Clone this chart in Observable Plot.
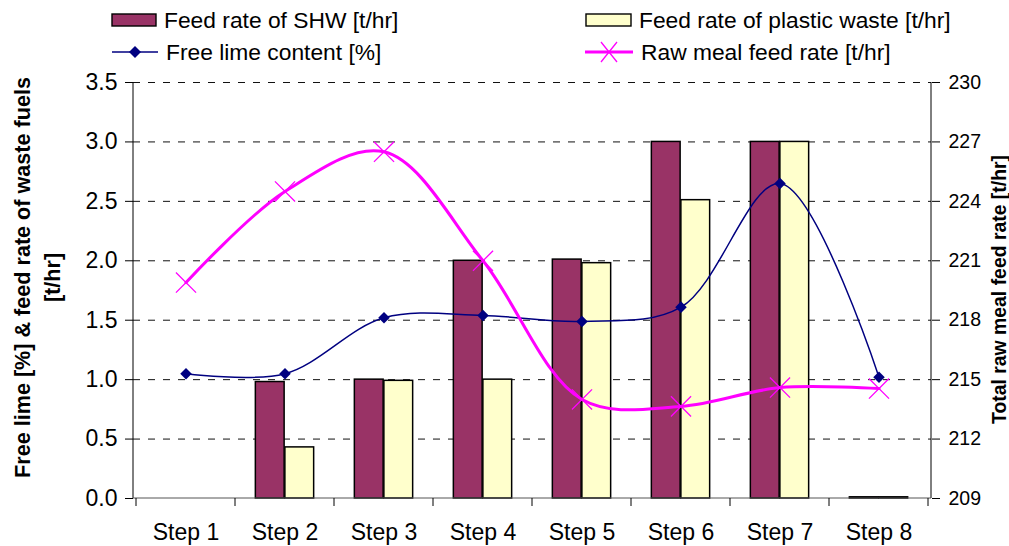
<!DOCTYPE html>
<html>
<head>
<meta charset="utf-8">
<script src="https://cdn.jsdelivr.net/npm/d3@7"></script>
<script src="https://cdn.jsdelivr.net/npm/@observablehq/plot@0.6"></script>
<style>
  body { margin: 0; background: #fff; font-family: "Liberation Sans", Arial, sans-serif; }
  #wrap { width: 1009px; height: 546px; overflow: hidden; }
  .legend { position: relative; width: 1009px; height: 70px; font-size: 22.8px; color: #000; }
  .item { position: absolute; display: flex; align-items: center; height: 30px; white-space: nowrap; }
  .item svg { display: block; margin-right: 7px; }
</style>
</head>
<body>
<div id="wrap">
  <div class="legend">
    <div class="item" style="left:111px; top:5px;">
      <svg width="46" height="14"><rect x="1" y="1" width="44" height="12" fill="#993366" stroke="#000" stroke-width="1.4"/></svg>
      <span>Feed rate of SHW [t/hr]</span>
    </div>
    <div class="item" style="left:585px; top:5px;">
      <svg width="47" height="14"><rect x="1" y="1" width="45" height="12" fill="#FFFFCC" stroke="#000" stroke-width="1.4"/></svg>
      <span>Feed rate of plastic waste [t/hr]</span>
    </div>
    <div class="item" style="left:111px; top:37px;">
      <svg width="48" height="16"><line x1="1" y1="8" x2="47" y2="8" stroke="#000080" stroke-width="1.5"/><path d="M24,2L30,8L24,14L18,8Z" fill="#000080"/></svg>
      <span>Free lime content [%]</span>
    </div>
    <div class="item" style="left:585px; top:37px;">
      <svg width="49" height="22"><line x1="0" y1="11" x2="48" y2="11" stroke="#FF00FF" stroke-width="3"/><path d="M16,1L32,21M32,1L16,21" stroke="#FF00FF" stroke-width="1.3"/></svg>
      <span>Raw meal feed rate [t/hr]</span>
    </div>
  </div>
  <div id="chart"></div>
</div>
<script>
// Process steps and measured values
const steps = ["Step 1", "Step 2", "Step 3", "Step 4", "Step 5", "Step 6", "Step 7", "Step 8"];
const shwFeed = [0, 0.98, 1.0, 2.0, 2.01, 3.0, 3.0, 0.01];          // t/hr
const plasticFeed = [0, 0.43, 0.99, 1.0, 1.98, 2.51, 3.0, 0.01];    // t/hr
const freeLime = [1.05, 1.05, 1.52, 1.54, 1.49, 1.61, 2.65, 1.02];  // %
const rawMeal = [219.9, 224.5, 226.5, 221.0, 214.0, 213.65, 214.6, 214.55]; // t/hr

const leftTicks = [0, 0.5, 1.0, 1.5, 2.0, 2.5, 3.0, 3.5];
const rightTicks = [209, 212, 215, 218, 221, 224, 227, 230];

const leftTitle = "Free lime [%] & feed rate of waste fuels\n[t/hr]";
const rightTitle = "Total raw meal feed rate [t/hr]";

const rows = steps.map((step, i) => ({
  step, shw: shwFeed[i], plastic: plasticFeed[i], lime: freeLime[i], raw: rawMeal[i]
}));

// Raw meal feed rate lives on the secondary (right) axis; map it onto the left domain
const toLeft = d3.scaleLinear([rightTicks[0], rightTicks[rightTicks.length - 1]],
                              [leftTicks[0], leftTicks[leftTicks.length - 1]]);

const W = 1009, H = 476, ML = 133, MR = 78, MT = 12, MB = 48;
const bw = (W - ML - MR) / steps.length;   // band width
const barW = 0.296 * bw;                    // width of one bar in a group
const pad = (bw - 2 * barW) / 2;            // space on each side of a group

const font = "'Liberation Sans', Arial, sans-serif";

const plot = Plot.plot({
  width: W, height: H,
  marginLeft: ML, marginRight: MR, marginTop: MT, marginBottom: MB,
  style: { fontFamily: font, fontSize: "22px", color: "#000", background: "transparent", overflow: "visible" },
  x: { type: "band", domain: steps, padding: 0, axis: null },
  y: { domain: [0, 3.5], axis: null },
  marks: [
    Plot.gridY(leftTicks.filter(d => d > 0), { stroke: "#111", strokeOpacity: 1, strokeWidth: 1, strokeDasharray: "7,8" }),
    Plot.barY(rows.filter(d => d.shw > 0), {
      x: "step", y: "shw", fill: "#993366", stroke: "#000", strokeWidth: 1.5,
      insetLeft: pad, insetRight: pad + barW
    }),
    Plot.barY(rows.filter(d => d.plastic > 0), {
      x: "step", y: "plastic", fill: "#FFFFCC", stroke: "#000", strokeWidth: 1.5,
      insetLeft: pad + barW, insetRight: pad
    }),
    Plot.line(rows, { x: "step", y: "lime", stroke: "#000080", strokeWidth: 1.5, curve: "catmull-rom" }),
    Plot.dot(rows, { x: "step", y: "lime", symbol: "diamond2", r: 5.2, fill: "#000080", stroke: "none" }),
    Plot.line(rows, { x: "step", y: d => toLeft(d.raw), stroke: "#FF00FF", strokeWidth: 3, curve: "catmull-rom" }),
    Plot.dot(rows, { x: "step", y: d => toLeft(d.raw), symbol: "times", r: 9.2, stroke: "#FF00FF", strokeWidth: 1.3 }),
    Plot.axisY(leftTicks, {
      anchor: "left", tickSize: 8, tickPadding: 8, fontSize: 23,
      tickFormat: d3.format(".1f"), label: null
    }),
    Plot.axisY(rightTicks.map(toLeft), {
      anchor: "right", tickSize: 8, tickPadding: 9, fontSize: 19.5,
      tickFormat: d => Math.round(toLeft.invert(d)), label: null
    }),
    Plot.axisX({ anchor: "bottom", tickSize: 0, tickPadding: 25, fontSize: 23, label: null }),
    Plot.text([leftTitle], {
      text: d => d, frameAnchor: "left", rotate: -90, dx: -98.5, dy: -13,
      fontWeight: "bold", fontSize: 21.6, lineHeight: 1.4, textAnchor: "middle"
    }),
    Plot.text([rightTitle], {
      text: d => d, frameAnchor: "right", rotate: -90, dx: 68, dy: -1,
      fontWeight: "bold", fontSize: 19.4, textAnchor: "middle"
    })
  ]
});

document.getElementById("chart").appendChild(plot);

// Axis lines and category boundary ticks
const xs = plot.scale("x"), ys = plot.scale("y");
const x0 = ML, x1 = W - MR;
const yBottom = ys.apply(0), yTop = ys.apply(3.5);
const g = d3.select(plot).append("g").attr("stroke", "#000").attr("stroke-width", 1).attr("fill", "none");
g.append("line").attr("x1", x0).attr("x2", x0).attr("y1", yTop).attr("y2", yBottom);
g.append("line").attr("x1", x1).attr("x2", x1).attr("y1", yTop).attr("y2", yBottom);
g.append("line").attr("x1", x0).attr("x2", x1).attr("y1", yBottom).attr("y2", yBottom).attr("stroke", "#555");
const bounds = steps.map(s => xs.apply(s)).concat([xs.apply(steps[steps.length - 1]) + xs.bandwidth]);
g.selectAll(".bt").data(bounds).join("line")
  .attr("x1", d => d).attr("x2", d => d).attr("y1", yBottom).attr("y2", yBottom + 8);
</script>
</body>
</html>
